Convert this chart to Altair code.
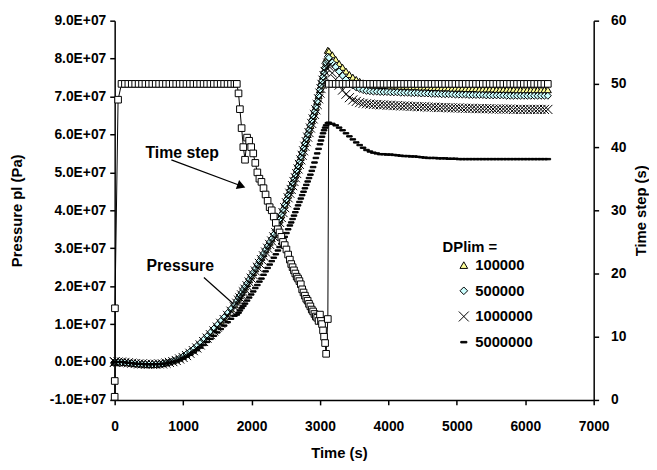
import altair as alt
import pandas as pd

FONT = "Liberation Sans"

# ---------------- data ----------------
series_names = ["100000", "500000", "1000000", "5000000"]

# output times (s): start-up + first plateau
time_a = [0, 1, 4, 50, 100, 150, 200, 250, 300, 350, 400, 450, 500, 550, 600, 650,
          700, 750, 800, 850, 900, 950, 1000, 1050, 1100, 1150, 1200, 1250, 1300,
          1350, 1400, 1450, 1500, 1550, 1600, 1650, 1700, 1750]
# time-step collapse during pressurisation
time_b = [1785, 1810, 1830, 1855, 1880, 1905, 1935, 1965, 1995, 2025,
          2055, 2085, 2115, 2145, 2175, 2205, 2235, 2265, 2295, 2325,
          2355, 2385, 2410, 2435, 2460, 2485, 2510, 2535, 2560, 2580,
          2600, 2620, 2640, 2660, 2680, 2700, 2720, 2740, 2760, 2780,
          2800, 2820, 2840, 2860, 2880, 2900, 2920, 2940, 2960, 2980,
          3000, 3015, 3030, 3045, 3060, 3075, 3090, 3115]
# after the peak
time_c = [3130, 3180, 3230, 3280, 3330, 3380, 3430, 3480, 3530, 3580, 3630, 3680, 3730,
          3780, 3830, 3880, 3930, 3980, 4030, 4080, 4130, 4180, 4230,
          4280, 4330, 4380, 4430, 4480, 4530, 4580, 4630, 4680, 4730,
          4780, 4830, 4880, 4930, 4980, 5030, 5080, 5130, 5180, 5230,
          5280, 5330, 5380, 5430, 5480, 5530, 5580, 5630, 5680, 5730,
          5780, 5830, 5880, 5930, 5980, 6030, 6080, 6130, 6180, 6230,
          6280, 6330]

# time step (s)
step_a = [0.5, 3, 14.5, 47.5, 50, 50, 50, 50, 50, 50, 50, 50, 50, 50, 50, 50, 50, 50, 50,
          50, 50, 50, 50, 50, 50, 50, 50, 50, 50, 50, 50, 50, 50, 50, 50, 50, 50, 50]
step_b = [50, 48.5, 46, 43, 40, 38, 41.5, 41, 40, 39,
          37.5, 36, 35, 34.5, 33.5, 32.5, 31.5, 30.5, 30, 29,
          28, 27, 26.5, 25.8, 25, 24.5, 23.8, 23, 22.2, 21.5,
          21, 20.5, 20, 19.5, 19.2, 18.8, 18.3, 17.5, 17, 16.5,
          16, 15.7, 15.2, 14.8, 14.3, 14, 13.6, 13.2, 13, 12.5,
          13.5, 12.5, 12, 11, 10, 9, 7.3, 12.8]
step_c = [50, 50, 50, 50, 50, 50, 50, 50, 50, 50, 50, 50, 50,
          50, 50, 50, 50, 50, 50, 50, 50, 50, 50, 50, 50, 50, 50, 50, 50,
          50, 50, 50, 50, 50, 50, 50, 50, 50, 50, 50, 50, 50, 50, 50, 50,
          50, 50, 50, 50, 50, 50, 50, 50, 50, 50, 50, 50, 50, 50, 50, 50,
          50, 50, 50, 50]

# pressure pl, in units of 1E+07 Pa
p100k_a = [0.00, 0.00, 0.00, 0.00, 0.00, -0.01, -0.02, -0.03, -0.04, -0.05, -0.05, -0.06,
           -0.06, -0.06, -0.06, -0.05, -0.04, -0.02, 0.00, 0.03, 0.06, 0.10, 0.15, 0.21,
           0.27, 0.34, 0.42, 0.50, 0.59, 0.68, 0.78, 0.88, 0.98, 1.08, 1.18, 1.29, 1.40, 1.51]
p100k_b = [1.61, 1.69, 1.75, 1.83, 1.91, 1.98, 2.07, 2.17, 2.27, 2.36,
           2.46, 2.56, 2.66, 2.76, 2.86, 2.96, 3.06, 3.16, 3.25, 3.36,
           3.47, 3.62, 3.75, 3.88, 4.01, 4.14, 4.27, 4.40, 4.52, 4.62,
           4.72, 4.83, 4.93, 5.04, 5.16, 5.28, 5.40, 5.52, 5.64, 5.76,
           5.88, 6.00, 6.12, 6.24, 6.36, 6.48, 6.60, 6.72, 6.87, 7.02,
           7.18, 7.30, 7.42, 7.54, 7.68, 7.82, 7.98, 8.22]
p100k_c = [8.20, 8.10, 7.98, 7.87, 7.77, 7.67, 7.58, 7.51, 7.45, 7.40, 7.36, 7.33, 7.31,
           7.30, 7.30, 7.29, 7.29, 7.29, 7.28, 7.28, 7.28, 7.27, 7.27,
           7.27, 7.26, 7.26, 7.26, 7.25, 7.25, 7.25, 7.24, 7.24, 7.24,
           7.23, 7.23, 7.23, 7.22, 7.22, 7.22, 7.22, 7.21, 7.21, 7.21,
           7.21, 7.20, 7.20, 7.20, 7.20, 7.20, 7.19, 7.19, 7.19, 7.19,
           7.19, 7.19, 7.18, 7.18, 7.18, 7.18, 7.18, 7.18, 7.18, 7.18,
           7.18, 7.18]

p500k_a = [0.00, 0.00, 0.00, 0.00, 0.00, -0.01, -0.02, -0.03, -0.04, -0.05, -0.05, -0.06,
           -0.06, -0.06, -0.06, -0.05, -0.04, -0.02, 0.00, 0.03, 0.06, 0.10, 0.15, 0.21,
           0.27, 0.34, 0.42, 0.50, 0.59, 0.68, 0.78, 0.88, 0.98, 1.08, 1.18, 1.29, 1.40, 1.51]
p500k_b = [1.61, 1.69, 1.75, 1.83, 1.91, 1.98, 2.07, 2.17, 2.27, 2.36,
           2.46, 2.56, 2.66, 2.76, 2.86, 2.96, 3.06, 3.16, 3.25, 3.36,
           3.47, 3.62, 3.75, 3.88, 4.01, 4.14, 4.27, 4.40, 4.52, 4.62,
           4.72, 4.83, 4.93, 5.04, 5.16, 5.28, 5.40, 5.52, 5.64, 5.76,
           5.88, 6.00, 6.12, 6.24, 6.36, 6.48, 6.60, 6.72, 6.87, 7.02,
           7.18, 7.30, 7.41, 7.52, 7.64, 7.76, 7.89, 8.05]
p500k_c = [8.02, 7.90, 7.78, 7.66, 7.55, 7.45, 7.36, 7.29, 7.24, 7.20, 7.17, 7.15, 7.14,
           7.13, 7.13, 7.12, 7.12, 7.12, 7.11, 7.11, 7.11, 7.10, 7.10,
           7.10, 7.09, 7.09, 7.09, 7.08, 7.08, 7.08, 7.07, 7.07, 7.07,
           7.06, 7.06, 7.06, 7.06, 7.05, 7.05, 7.05, 7.05, 7.04, 7.04,
           7.04, 7.04, 7.04, 7.03, 7.03, 7.03, 7.03, 7.03, 7.03, 7.02,
           7.02, 7.02, 7.02, 7.02, 7.02, 7.02, 7.02, 7.02, 7.02, 7.02,
           7.02, 7.02]

p1m_a = [0.00, 0.00, 0.00, 0.00, 0.00, -0.01, -0.02, -0.03, -0.04, -0.05, -0.05, -0.06,
         -0.06, -0.06, -0.06, -0.05, -0.05, -0.03, -0.01, 0.01, 0.04, 0.08, 0.12, 0.17,
         0.23, 0.30, 0.37, 0.45, 0.54, 0.63, 0.72, 0.82, 0.92, 1.02, 1.12, 1.23, 1.34, 1.45]
p1m_b = [1.55, 1.63, 1.69, 1.77, 1.85, 1.92, 2.01, 2.11, 2.21, 2.30,
         2.40, 2.50, 2.60, 2.70, 2.80, 2.90, 3.00, 3.10, 3.19, 3.30,
         3.41, 3.55, 3.68, 3.81, 3.94, 4.07, 4.20, 4.33, 4.45, 4.55,
         4.65, 4.76, 4.86, 4.97, 5.09, 5.21, 5.33, 5.45, 5.57, 5.69,
         5.81, 5.93, 6.05, 6.17, 6.29, 6.41, 6.53, 6.65, 6.79, 6.94,
         7.09, 7.21, 7.32, 7.43, 7.55, 7.66, 7.76, 7.88]
p1m_c = [7.80, 7.62, 7.45, 7.30, 7.17, 7.06, 6.97, 6.91, 6.87, 6.84, 6.82, 6.81, 6.80,
         6.79, 6.79, 6.78, 6.78, 6.77, 6.77, 6.76, 6.76, 6.75, 6.75,
         6.75, 6.74, 6.74, 6.73, 6.73, 6.73, 6.72, 6.72, 6.72, 6.71,
         6.71, 6.71, 6.70, 6.70, 6.70, 6.70, 6.69, 6.69, 6.69, 6.69,
         6.68, 6.68, 6.68, 6.68, 6.68, 6.67, 6.67, 6.67, 6.67, 6.67,
         6.67, 6.66, 6.66, 6.66, 6.66, 6.66, 6.66, 6.66, 6.66, 6.66,
         6.66, 6.66]

p5m_a = [0.00, 0.00, 0.00, 0.00, 0.00, -0.01, -0.02, -0.03, -0.04, -0.05, -0.05, -0.06,
         -0.06, -0.06, -0.06, -0.06, -0.05, -0.04, -0.02, 0.01, 0.03, 0.06, 0.10, 0.14,
         0.19, 0.25, 0.31, 0.38, 0.45, 0.53, 0.61, 0.69, 0.78, 0.87, 0.96, 1.05, 1.14, 1.22]
p5m_b = [1.25, 1.30, 1.36, 1.42, 1.48, 1.54, 1.62, 1.70, 1.78, 1.86,
         1.95, 2.03, 2.12, 2.20, 2.30, 2.39, 2.48, 2.57, 2.66, 2.75,
         2.84, 2.94, 3.03, 3.12, 3.21, 3.30, 3.40, 3.50, 3.60, 3.68,
         3.77, 3.86, 3.95, 4.04, 4.13, 4.22, 4.31, 4.40, 4.49, 4.58,
         4.67, 4.76, 4.85, 4.94, 5.04, 5.14, 5.26, 5.38, 5.50, 5.62,
         5.74, 5.84, 5.94, 6.03, 6.11, 6.18, 6.24, 6.30]
p5m_c = [6.31, 6.28, 6.24, 6.18, 6.11, 6.03, 5.95, 5.87, 5.79, 5.72, 5.65, 5.59, 5.55,
         5.52, 5.50, 5.48, 5.48, 5.47, 5.47, 5.46, 5.45, 5.44, 5.43,
         5.43, 5.42, 5.42, 5.41, 5.40, 5.39, 5.38, 5.38, 5.38, 5.37,
         5.37, 5.37, 5.36, 5.36, 5.36, 5.35, 5.35, 5.35, 5.35, 5.35,
         5.35, 5.35, 5.35, 5.35, 5.35, 5.35, 5.35, 5.35, 5.35, 5.35,
         5.35, 5.35, 5.35, 5.35, 5.35, 5.35, 5.35, 5.35, 5.35, 5.35,
         5.35, 5.35]

# tick labels
x_ticks = [0, 1000, 2000, 3000, 4000, 5000, 6000, 7000]
p_ticks = [-1e7, 0, 1e7, 2e7, 3e7, 4e7, 5e7, 6e7, 7e7, 8e7, 9e7]
s_ticks = [0, 10, 20, 30, 40, 50, 60]

# annotations (data coordinates)
note_text = ["Time step", "Pressure"]
note_time = [987, 958]
note_p = [5.51, 2.52]
arrow_t1 = [828, 1304]
arrow_p1 = [5.33, 2.23]
arrow_t2 = [1882, 1737]
arrow_p2 = [4.62, 1.53]
head_t = [1845]
head_p = [4.645]

# ---------------- build tables ----------------
time_s = time_a + time_b + time_c
step_s = step_a + step_b + step_c
pressure_sets = [p100k_a + p100k_b + p100k_c,
                 p500k_a + p500k_b + p500k_c,
                 p1m_a + p1m_b + p1m_c,
                 p5m_a + p5m_b + p5m_c]
assert len(step_s) == len(time_s)
for ps in pressure_sets:
    assert len(ps) == len(time_s), (len(ps), len(time_s))

rows = []
for name, vals in zip(series_names, pressure_sets):
    for t, v in zip(time_s, vals):
        rows.append({"time": t, "pressure": v * 1e7, "series": name})
pdf = pd.DataFrame(rows)
sdf = pd.DataFrame({"time": time_s, "step": step_s})
note_df = pd.DataFrame({"time": note_time, "pressure": [v * 1e7 for v in note_p], "text": note_text})
arrow_df = pd.DataFrame({"time": arrow_t1, "pressure": [v * 1e7 for v in arrow_p1],
                         "time2": arrow_t2, "pressure2": [v * 1e7 for v in arrow_p2]})
head_df = pd.DataFrame({"time": head_t, "pressure": [v * 1e7 for v in head_p]})

# ---------------- encodings ----------------
x_axis = alt.Axis(values=x_ticks, format="d", title="Time (s)", labelPadding=15, labelFlush=False,
                  titleX=227, titleY=53, titleBaseline="middle", titleAngle=0)
X = alt.X("time:Q", scale=alt.Scale(domain=[0, 7000], nice=False, zero=False), axis=x_axis)

yl_axis = alt.Axis(values=p_ticks, title="Pressure pl (Pa)", labelPadding=4, labelFlush=False,
                   labelExpr="datum.value == 0 ? '0.0E+00' : (datum.value < 0 ? '-' : '') + format(abs(datum.value) / 1e7, '.1f') + 'E+07'",
                   titleX=-99, titleY=192, titleAngle=270, titleBaseline="middle", titleAlign="center")
Yp = alt.Y("pressure:Q", scale=alt.Scale(domain=[-1e7, 9e7], nice=False, zero=False), axis=yl_axis)

yr_axis = alt.Axis(values=s_ticks, format="d", orient="right", title="Time step (s)", labelPadding=12,
                   labelFlush=False,
                   titleX=47, titleY=192, titleAngle=270, titleBaseline="middle", titleAlign="center")
Ys = alt.Y("step:Q", scale=alt.Scale(domain=[0, 60], nice=False, zero=False), axis=yr_axis)

legend = alt.Legend(title="DPlim =", orient="none", legendX=332, legendY=222, padding=0,
                    symbolOffset=14, labelOffset=4, rowPadding=10, titlePadding=3,
                    symbolSize=60, symbolStrokeColor="black", symbolStrokeWidth=1,
                    labelFont=FONT, labelFontSize=15, labelFontWeight="bold", labelColor="black",
                    titleFont=FONT, titleFontSize=15, titleFontWeight="bold", titleColor="black")

shape_scale = alt.Scale(domain=series_names,
                        range=["triangle-up", "diamond",
                               "M-1.3,-1.3L1.3,1.3M-1.3,1.3L1.3,-1.3",
                               "M-0.8,-0.2L0.8,-0.2L0.8,0.2L-0.8,0.2Z"])
fill_scale = alt.Scale(domain=series_names, range=["#FFFF99", "#CCFFFF", "transparent", "black"])
stroke_scale = alt.Scale(domain=series_names, range=["black", "black", "black", "black"])

points = alt.Chart(pdf).mark_point(filled=True, strokeWidth=1, size=50, opacity=1).encode(
    x=X, y=Yp,
    shape=alt.Shape("series:N", scale=shape_scale, legend=legend, sort=series_names),
    fill=alt.Fill("series:N", scale=fill_scale, legend=legend, sort=series_names),
    stroke=alt.Stroke("series:N", scale=stroke_scale, legend=legend, sort=series_names),
)

arrows = alt.Chart(arrow_df).mark_rule(color="black", strokeWidth=1.2).encode(
    x=X, y=Yp, x2="time2:Q", y2="pressure2:Q")
head = alt.Chart(head_df).mark_point(shape="triangle-right", filled=True, fill="black",
                                     stroke="black", size=40, angle=20, opacity=1).encode(x=X, y=Yp)
notes = alt.Chart(note_df).mark_text(font=FONT, fontSize=16, fontWeight="bold", color="black",
                                     align="center", baseline="middle").encode(x=X, y=Yp, text="text:N")

step_line = alt.Chart(sdf).mark_line(color="black", strokeWidth=1).encode(x=X, y=Ys)
step_pts = alt.Chart(sdf).mark_point(shape="square", filled=True, fill="white", stroke="black",
                                     strokeWidth=1, size=45, opacity=1).encode(x=X, y=Ys)

left = alt.layer(points, arrows, head, notes)
right = alt.layer(step_line, step_pts)

chart = alt.layer(left, right).resolve_scale(y="independent").properties(
    width=485, height=384,
    autosize=alt.AutoSizeParams(type="none"),
    padding={"left": 108, "top": 10, "right": 56, "bottom": 60},
    background="white",
).configure_view(stroke=None).configure_axis(
    grid=False, domainColor="black", domainWidth=1.5, tickColor="black", tickWidth=1.5, tickSize=5,
    labelFont=FONT, labelFontSize=14, labelFontWeight="bold", labelColor="black",
    titleFont=FONT, titleFontSize=15, titleFontWeight="bold", titleColor="black",
)

chart.save("out.html", embed_options={"renderer": "svg", "actions": False})
